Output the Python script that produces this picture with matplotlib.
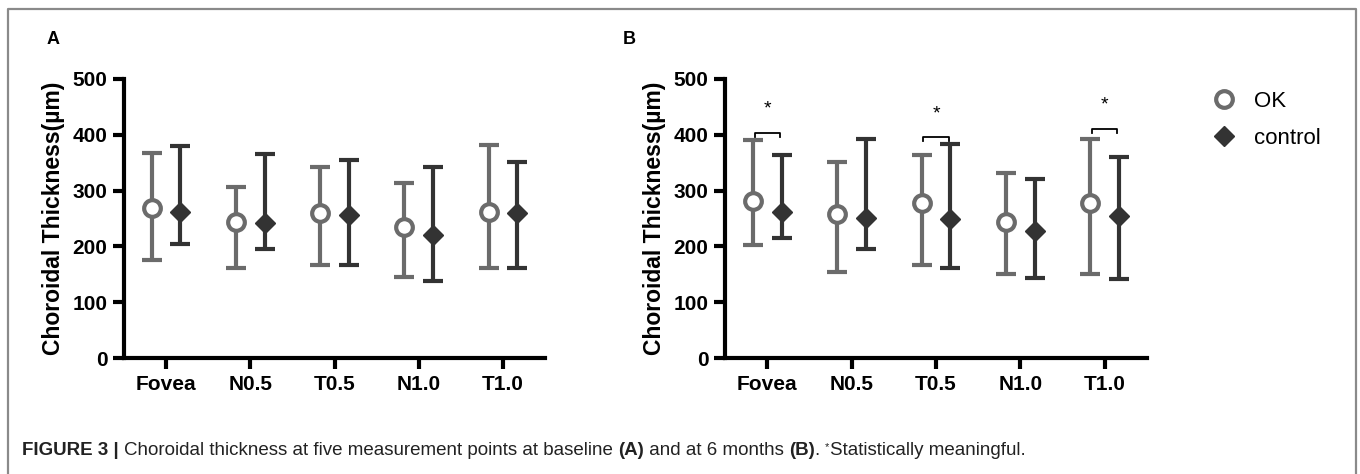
import numpy as np
import matplotlib
matplotlib.use('Agg')
import matplotlib.pyplot as plt
from matplotlib.lines import Line2D
from matplotlib.text import Annotation

sites = ['Fovea', 'N0.5', 'T0.5', 'N1.0', 'T1.0']

# panel A - baseline
a_ok_mean = [268, 244, 259, 234, 262]
a_ok_lo = [175, 162, 166, 146, 162]
a_ok_hi = [368, 307, 343, 314, 381]
a_ctl_mean = [262, 242, 256, 220, 260]
a_ctl_lo = [205, 195, 166, 138, 162]
a_ctl_hi = [380, 365, 355, 342, 351]

# panel B - 6 months
b_ok_mean = [282, 258, 278, 243, 277]
b_ok_lo = [203, 154, 167, 150, 150]
b_ok_hi = [390, 351, 363, 331, 393]
b_ctl_mean = [261, 251, 249, 227, 254]
b_ctl_lo = [215, 195, 162, 143, 141]
b_ctl_hi = [363, 392, 383, 321, 360]

# significance marks in B
sig_idx = [0, 2, 4]
sig_bracket = [404, 396, 411]

plt.rcParams['font.family'] = ['Liberation Sans', 'DejaVu Sans']

gray = '#6b6b6b'
dark = '#333333'
off = 0.17

fig = plt.figure(figsize=(13.6, 4.74), dpi=100)
axA = fig.add_axes([124/1360, 1-358/474, 421/1360, 279/474])
axB = fig.add_axes([725/1360, 1-358/474, 422/1360, 279/474])


def panel(ax, ok_m, ok_lo, ok_hi, c_m, c_lo, c_hi):
    x = np.arange(len(sites))
    ok_m = np.array(ok_m); c_m = np.array(c_m)
    ax.errorbar(x - off, ok_m, yerr=[ok_m - np.array(ok_lo), np.array(ok_hi) - ok_m],
                fmt='o', color=gray, mfc='white', mec=gray, ms=12, mew=3,
                elinewidth=3, capsize=7, capthick=3, zorder=3, label='OK')
    ax.errorbar(x + off, c_m, yerr=[c_m - np.array(c_lo), np.array(c_hi) - c_m],
                fmt='D', color=dark, mfc=dark, mec=dark, ms=10,
                elinewidth=3, capsize=7, capthick=3, zorder=3, label='control')
    ax.set_xlim(-0.5, 4.5)
    ax.set_ylim(0, 500)
    ax.set_yticks([0, 100, 200, 300, 400, 500])
    ax.set_xticks(x)
    ax.set_xticklabels(sites)
    for s in ['top', 'right']:
        ax.spines[s].set_visible(False)
    for s in ['left', 'bottom']:
        ax.spines[s].set_linewidth(3)
    ax.tick_params(width=3, length=8, labelsize=15, pad=4)
    for lab in ax.get_xticklabels() + ax.get_yticklabels():
        lab.set_fontweight('bold')
    ax.set_ylabel('Choroidal Thickness(µm)', fontsize=16.5, fontweight='bold', labelpad=5)


panel(axA, a_ok_mean, a_ok_lo, a_ok_hi, a_ctl_mean, a_ctl_lo, a_ctl_hi)
panel(axB, b_ok_mean, b_ok_lo, b_ok_hi, b_ctl_mean, b_ctl_lo, b_ctl_hi)

for i, yb in zip(sig_idx, sig_bracket):
    axB.plot([i - 0.15, i - 0.15, i + 0.15, i + 0.15], [yb - 8, yb, yb, yb - 8],
             color='black', lw=1.3, clip_on=False)
    axB.text(i, yb + 42, '*', ha='center', va='center', fontsize=14)

fig.text(47/1360, 1-40/474, 'A', fontsize=13, fontweight='bold', va='center')
fig.text(623/1360, 1-40/474, 'B', fontsize=13, fontweight='bold', va='center')

h, l = axB.get_legend_handles_labels()
h = [Line2D([], [], marker='o', ls='none', color=gray, mfc='white', mew=3, ms=12),
     Line2D([], [], marker='D', ls='none', color=dark, ms=10)]
fig.legend(h, l, loc='upper left', bbox_to_anchor=(1191/1360, 1-80/474), frameon=False,
           fontsize=16, handletextpad=0.35, labelspacing=0.7, borderpad=0)

# border
fig.add_artist(Line2D([8/1360, 8/1360, 1356/1360, 1356/1360], [0, 1-9/474, 1-9/474, 0],
                      transform=fig.transFigure, color='#8a8a8a', lw=1.6))

# caption
fs = 13.5
pieces = [('FIGURE 3 | ', 'bold', 0),
          ('Choroidal thickness at five measurement points at baseline ', 'normal', 0),
          ('(A)', 'bold', 0), (' and at 6 months ', 'normal', 0), ('(B)', 'bold', 0),
          ('. ', 'normal', 0), ('*', 'normal', 1), ('Statistically meaningful.', 'normal', 0)]
t = fig.text(22/1360, 1-459/474, '', fontsize=fs)
for txt, w, sup in pieces:
    a = Annotation(txt, xy=(1, 0), xycoords=t, xytext=(0, 5 if sup else 0),
                   textcoords='offset points', va='bottom', ha='left',
                   fontsize=8 if sup else fs, fontweight=w, color='#222222')
    fig.add_artist(a)
    if not sup:
        t = a
    else:
        t = Annotation('', xy=(1, 0), xycoords=a, xytext=(0, -5), textcoords='offset points',
                       va='bottom', fontsize=fs)
        fig.add_artist(t)

fig.savefig('out.png', dpi=100)
